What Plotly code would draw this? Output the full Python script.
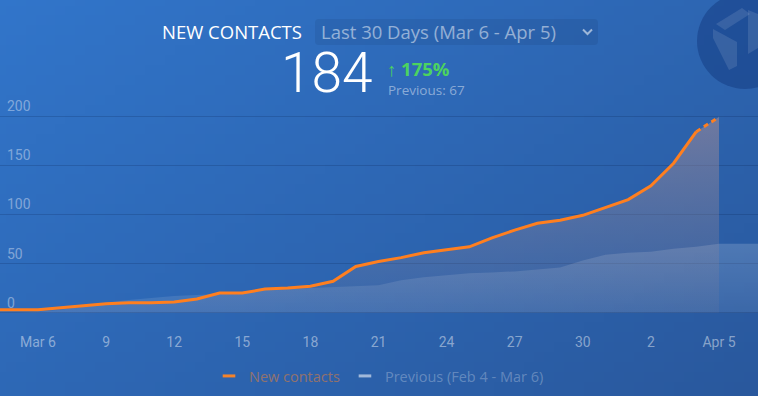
import base64, struct, zlib
import pandas as pd
import plotly.graph_objects as go

# ---------------- data ----------------
dates_new = pd.date_range("2017-03-04", "2017-04-05", freq="D")
new_contacts = [3, 3, 3, 5, 7, 9, 10, 10, 11, 14, 20, 20, 24, 25, 27, 32, 47, 52,
                56, 61, 64, 67, 76, 84, 91, 94, 99, 107, 115, 129, 152, 184, 199]
dates_prev = pd.date_range("2017-03-04", "2017-04-07", freq="D")
previous = [0, 0, 1, 3, 6, 10, 13, 15, 17, 18, 19, 21, 23, 24, 25, 26, 27, 28,
            33, 36, 38, 40, 41, 42, 44, 46, 53, 59, 61, 62, 65, 67, 70, 70, 70]
tick_dates = pd.date_range("2017-03-06", "2017-04-05", freq="3D")
tick_text = ["Mar 6", "9", "12", "15", "18", "21", "24", "27", "30", "2", "Apr 5"]
y_ticks = [0, 50, 100, 150, 200]

W, H = 758, 396
T, B = 90, 66
PH = H - T - B

# ---------------- background gradient image ----------------
def make_png(w, h, c0, c1):
    rows = []
    for yy in range(h):
        row = bytearray([0])
        for xx in range(w):
            t = 0.55 * xx / (w - 1) + 0.45 * yy / (h - 1)
            row += bytes(int(round(c0[i] + (c1[i] - c0[i]) * t)) for i in range(3))
        rows.append(bytes(row))
    raw = b"".join(rows)
    def chunk(tag, data):
        return struct.pack(">I", len(data)) + tag + data + struct.pack(">I", zlib.crc32(tag + data) & 0xffffffff)
    png = b"\x89PNG\r\n\x1a\n" + chunk(b"IHDR", struct.pack(">IIBBBBB", w, h, 8, 2, 0, 0, 0)) \
        + chunk(b"IDAT", zlib.compress(raw)) + chunk(b"IEND", b"")
    return "data:image/png;base64," + base64.b64encode(png).decode()

bg_src = make_png(76, 40, (49, 117, 202), (41, 88, 157))

def py(Y):  # pixel row -> paper y
    return (H - B - Y) / PH

def px(X):
    return X / W

fig = go.Figure()

n_solid = len(new_contacts) - 1

# previous period area
fig.add_trace(go.Scatter(
    x=dates_prev, y=previous, mode="lines", line=dict(width=0, color="rgba(255,255,255,0)"),
    fill="tozeroy",
    fillgradient=dict(type="vertical", start=0, stop=70,
                      colorscale=[[0, "rgba(255,255,255,0.08)"], [1, "rgba(255,255,255,0.17)"]]),
    showlegend=False, hoverinfo="skip"))

# new contacts area
fig.add_trace(go.Scatter(
    x=dates_new, y=new_contacts, mode="lines", line=dict(width=0, color="rgba(0,0,0,0)"),
    fill="tozeroy",
    fillgradient=dict(type="vertical", start=0, stop=200,
                      colorscale=[[0, "rgba(150,135,150,0.10)"], [1, "rgba(165,140,150,0.55)"]]),
    showlegend=False, hoverinfo="skip"))

# solid orange line
fig.add_trace(go.Scatter(
    x=dates_new[:n_solid], y=new_contacts[:n_solid], mode="lines",
    line=dict(color="#ff7f1f", width=3), showlegend=False))
# dashed projection
fig.add_trace(go.Scatter(
    x=dates_new[n_solid - 1:], y=new_contacts[n_solid - 1:], mode="lines",
    line=dict(color="#ff7f1f", width=3, dash="5px,4px"), showlegend=False))

# legend entries (short dash glyphs)
fig.add_trace(go.Scatter(x=[None], y=[None], mode="markers",
                         marker=dict(symbol="line-ew", size=9, line=dict(color="#f5832a", width=3)),
                         name="<span style='color:#f5832a'>New contacts</span>"))
fig.add_trace(go.Scatter(x=[None], y=[None], mode="markers",
                         marker=dict(symbol="line-ew", size=9, line=dict(color="rgba(225,232,245,0.65)", width=3)),
                         name="<span style='color:rgba(255,255,255,0.55)'>Previous (Feb 4 - Mar 6)</span>"))

x0 = pd.Timestamp("2017-03-06") - pd.Timedelta(days=38 / 22.7)
x1 = pd.Timestamp("2017-03-06") + pd.Timedelta(days=(W - 38) / 22.7)
ppu = 196.7 / 200
y_lo = -(T + PH - 312.7) / ppu
y_hi = (312.7 - T) / ppu

font_fam = "Roboto, 'Open Sans', sans-serif"
font_wide = "'Open Sans', Roboto, sans-serif"

fig.update_layout(
    width=W, height=H,
    margin=dict(l=0, r=0, t=T, b=B, pad=0),
    paper_bgcolor="#2d66b2", plot_bgcolor="rgba(0,0,0,0)",
    font=dict(family=font_fam, color="rgba(255,255,255,0.5)", size=14),
    xaxis=dict(range=[x0, x1], tickvals=tick_dates, ticktext=tick_text, showgrid=False,
               zeroline=False, showline=False, ticks="", tickfont=dict(size=14, color="rgba(255,255,255,0.45)"),
               ticklabelstandoff=2, fixedrange=True),
    yaxis=dict(range=[y_lo, y_hi], tickvals=y_ticks, showgrid=True, gridcolor="rgba(0,20,60,0.17)",
               gridwidth=1, zeroline=False, showline=False, ticks="",
               ticklabelposition="inside top", ticklabelstandoff=4,
               tickfont=dict(size=14, color="rgba(255,255,255,0.4)"), fixedrange=True),
    showlegend=True,
    legend=dict(orientation="h", x=0.5, xanchor="center", y=py(376), yanchor="middle",
                bgcolor="rgba(0,0,0,0)", font=dict(size=14.5, family=font_wide), itemwidth=30),
    images=[dict(source=bg_src, xref="paper", yref="paper", x=0, y=py(0), sizex=1,
                 sizey=H / PH, sizing="stretch", layer="below", xanchor="left", yanchor="top")],
)

# logo circle and glyph (top right)
fig.add_shape(type="circle", xref="paper", yref="paper",
              x0=px(697), x1=px(793), y0=py(89), y1=py(-7),
              fillcolor="rgba(15,50,120,0.42)", line=dict(width=0), layer="below")
def poly(pts):
    return "M " + " L ".join(f"{px(a):.5f},{py(b):.5f}" for a, b in pts) + " Z"
glyph = "rgba(255,255,255,0.11)"
fig.add_shape(type="path", xref="paper", yref="paper",
              path=poly([(716, 24), (742, 8), (750, 14), (725, 30)]),
              fillcolor=glyph, line=dict(width=0), layer="below")
fig.add_shape(type="path", xref="paper", yref="paper",
              path=poly([(713, 29), (737, 42), (737, 66), (729, 70), (713, 38)]),
              fillcolor=glyph, line=dict(width=0), layer="below")
fig.add_shape(type="path", xref="paper", yref="paper",
              path=poly([(748, 10), (758, 14), (758, 48), (748, 54)]),
              fillcolor=glyph, line=dict(width=0), layer="below")

# dropdown box (rounded)
bx0, bx1, by0, by1, r = 315, 598, 19, 45, 4
rr = (f"M {px(bx0 + r)},{py(by0)} L {px(bx1 - r)},{py(by0)} Q {px(bx1)},{py(by0)} {px(bx1)},{py(by0 + r)} "
      f"L {px(bx1)},{py(by1 - r)} Q {px(bx1)},{py(by1)} {px(bx1 - r)},{py(by1)} "
      f"L {px(bx0 + r)},{py(by1)} Q {px(bx0)},{py(by1)} {px(bx0)},{py(by1 - r)} "
      f"L {px(bx0)},{py(by0 + r)} Q {px(bx0)},{py(by0)} {px(bx0 + r)},{py(by0)} Z")
fig.add_shape(type="path", xref="paper", yref="paper", path=rr,
              fillcolor="rgba(0,10,40,0.08)", line=dict(width=0))
# chevron
fig.add_shape(type="path", xref="paper", yref="paper",
              path=f"M {px(583)},{py(29.5)} L {px(587.5)},{py(34)} L {px(592)},{py(29.5)}",
              line=dict(color="rgba(255,255,255,0.55)", width=2))

def ann(text, X, Y, size, color, xanchor="center", weight=None, family=font_wide):
    f = dict(size=size, color=color, family=family)
    if weight:
        f["weight"] = weight
    fig.add_annotation(text=text, x=px(X), y=py(Y), xref="paper", yref="paper",
                       xanchor=xanchor, yanchor="middle", showarrow=False, font=f,
                       borderpad=0)

ann("NEW CONTACTS", 232, 32, 18.5, "#ffffff")
ann("Last 30 Days (Mar 6 - Apr 5)", 320, 32, 18.5, "rgba(255,255,255,0.5)", xanchor="left")
ann("184", 326.5, 73, 55, "#ffffff", weight=300, family=font_fam)
ann("↑ 175%", 386, 68.5, 18.5, "#4cd35f", xanchor="left", weight=700)
ann("Previous: 67", 387, 90, 13.5, "rgba(255,255,255,0.45)", xanchor="left")

fig.write_html("out.html", config={"displayModeBar": False},
               post_script="document.body.style.margin='0';")
